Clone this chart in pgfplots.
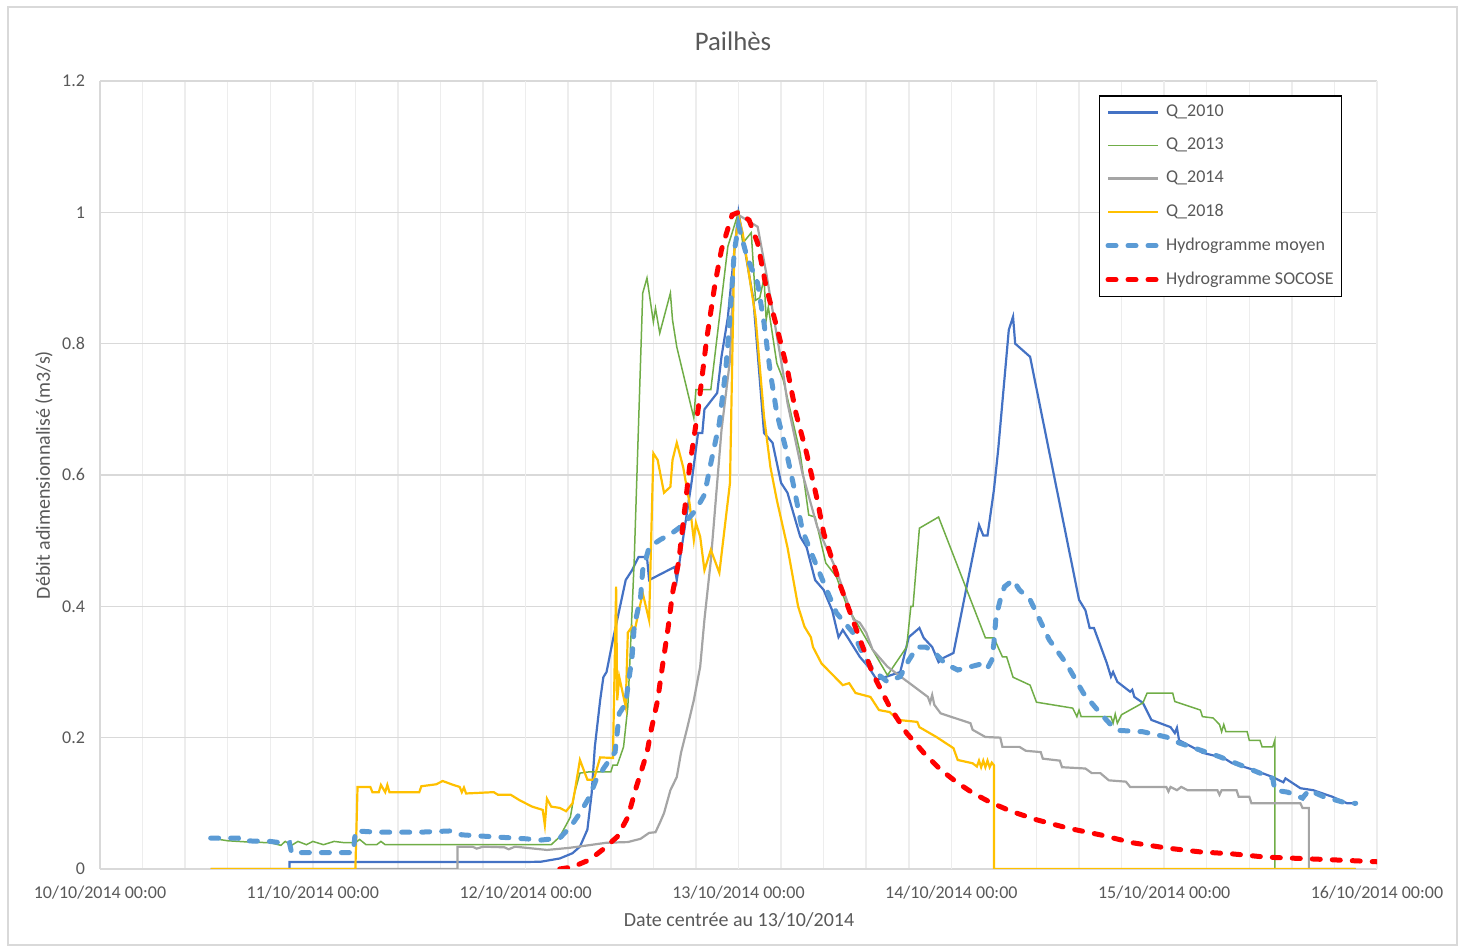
\documentclass[border=0pt]{standalone}
\usepackage{pgfplots}
\pgfplotsset{compat=1.18}
\usepackage{fontspec}
\setmainfont{Carlito}

\definecolor{qA}{HTML}{4472C4}
\definecolor{qB}{HTML}{70AD47}
\definecolor{qC}{HTML}{A5A5A5}
\definecolor{qD}{HTML}{FFC000}
\definecolor{moyen}{HTML}{5B9BD5}
\definecolor{socose}{HTML}{FF0000}
\definecolor{txt}{HTML}{595959}
\definecolor{gridH}{HTML}{D9D9D9}
\definecolor{gridV}{HTML}{EDEDED}
\definecolor{frame}{HTML}{D9D9D9}

\begin{document}
\begin{tikzpicture}[x=1pt,y=1pt]
\path[use as bounding box] (0,0) rectangle (732,476);
\draw[frame, line width=0.75pt] (4,3.5) rectangle (728.5,472.5);

\begin{axis}[
  at={(50pt,41.5pt)}, anchor=south west,
  scale only axis, width=638.5pt, height=394pt,
  xmin=0, xmax=6, ymin=0, ymax=1.2,
  axis x line*=bottom, axis y line*=left,
  x axis line style={draw=gridH, line width=0.75pt, -},
  y axis line style={draw=gridH, line width=0.75pt, -},
  major tick length=0pt, minor tick length=0pt,
  tick style={draw=none},
  xtick={0,1,2,3,4,5,6},
  xticklabels={10/10/2014 00:00,11/10/2014 00:00,12/10/2014 00:00,13/10/2014 00:00,14/10/2014 00:00,15/10/2014 00:00,16/10/2014 00:00},
  minor x tick num=4,
  xminorgrids,
  minor grid style={draw=gridV, line width=0.75pt},
  extra x ticks={1,2,3,4,5,6},
  extra x tick labels={},
  extra x tick style={grid=major, major grid style={draw=gridV, line width=0.75pt}},
  ytick={0,0.2,0.4,0.6,0.8,1,1.2},
  yticklabels={0,0.2,0.4,0.6,0.8,1,1.2},
  ymajorgrids,
  major grid style={draw=gridH, line width=0.75pt},
  xticklabel style={font=\fontsize{9}{10}\selectfont, text=txt, yshift=-5pt},
  yticklabel style={font=\fontsize{9}{10}\selectfont, text=txt, xshift=-4pt},
  legend cell align=left,
  legend style={at={(rel axis cs:0.782,0.982)}, anchor=north west,
    draw=black, line width=0.9pt, fill=white,
    font=\fontsize{9}{10}\selectfont, text=txt,
    row sep=5.2pt, inner xsep=3pt, inner ysep=2.5pt,
    nodes={inner xsep=1pt},
    /tikz/every odd column/.append style={column sep=1.8pt}},
  legend image code/.code={\draw[#1] (0pt,0pt) -- (25pt,0pt);},
  clip=true,
]

% Q_2010
\addplot[qA, line width=1.1pt] coordinates {
(0.89,0) (0.89,0.0107) (2.0,0.0107) (2.07,0.011) (2.16,0.016) (2.22,0.024) (2.255,0.034)
(2.29,0.06) (2.31,0.115) (2.325,0.186) (2.35,0.257) (2.365,0.292) (2.38,0.30) (2.41,0.349)
(2.47,0.44) (2.50,0.455) (2.53,0.475) (2.57,0.475) (2.58,0.44) (2.70,0.46) (2.71,0.44)
(2.78,0.59) (2.81,0.664) (2.83,0.664) (2.84,0.70) (2.90,0.725) (2.92,0.78) (2.95,0.84)
(2.98,0.94) (3.0,1.0) (3.07,0.867) (3.12,0.664) (3.16,0.649) (3.20,0.588) (3.23,0.573)
(3.29,0.506) (3.32,0.49) (3.36,0.44) (3.40,0.425) (3.44,0.394) (3.47,0.353) (3.49,0.364)
(3.52,0.349) (3.57,0.323) (3.61,0.308) (3.65,0.288) (3.76,0.30) (3.80,0.353) (3.85,0.367)
(3.87,0.352) (3.91,0.338) (3.94,0.315) (3.96,0.321) (4.01,0.329) (4.13,0.524) (4.15,0.508)
(4.17,0.508) (4.20,0.577) (4.22,0.638) (4.27,0.821) (4.29,0.841) (4.30,0.80) (4.37,0.78)
(4.60,0.41) (4.63,0.394) (4.65,0.367) (4.67,0.367) (4.73,0.314) (4.75,0.293) (4.76,0.30)
(4.78,0.285) (4.84,0.27) (4.85,0.273) (4.86,0.262) (4.90,0.253) (4.94,0.227) (5.03,0.216)
(5.05,0.207) (5.06,0.215) (5.07,0.196) (5.13,0.186) (5.18,0.177) (5.28,0.169) (5.32,0.161)
(5.42,0.151) (5.51,0.14) (5.56,0.132) (5.57,0.138) (5.64,0.123) (5.70,0.12) (5.79,0.11)
(5.86,0.10) (5.90,0.10)
};
\addlegendentry{Q\_2010}

% Q_2013
\addplot[qB, line width=0.75pt] coordinates {
(0.52,0.047) (0.6,0.043) (0.7,0.041) (0.8,0.04) (0.85,0.036) (0.87,0.042) (0.9,0.036)
(0.93,0.042) (0.97,0.037) (1.0,0.042) (1.05,0.037) (1.1,0.042) (1.15,0.04) (1.2,0.04)
(1.22,0.045) (1.25,0.037) (1.3,0.037) (1.32,0.042) (1.34,0.037) (2.12,0.037) (2.16,0.049)
(2.21,0.079) (2.23,0.116) (2.255,0.146) (2.30,0.148) (2.40,0.148) (2.41,0.158) (2.43,0.158)
(2.46,0.186) (2.48,0.247) (2.49,0.318) (2.51,0.47) (2.55,0.877) (2.57,0.90) (2.60,0.833)
(2.61,0.854) (2.63,0.816) (2.68,0.877) (2.69,0.836) (2.71,0.795) (2.79,0.687) (2.80,0.73)
(2.87,0.73) (2.95,0.948) (3.0,1.0) (3.02,0.953) (3.06,0.969) (3.08,0.866) (3.10,0.87)
(3.12,0.90) (3.13,0.836) (3.14,0.856) (3.18,0.77) (3.21,0.745) (3.29,0.633) (3.33,0.539)
(3.36,0.536) (3.41,0.466) (3.46,0.445) (3.51,0.40) (3.70,0.295) (3.79,0.338) (3.81,0.40)
(3.82,0.40) (3.85,0.519) (3.94,0.536) (4.16,0.352) (4.20,0.352) (4.24,0.323) (4.26,0.323)
(4.29,0.292) (4.37,0.28) (4.40,0.254) (4.57,0.245) (4.59,0.232) (4.60,0.242) (4.61,0.232)
(4.75,0.232) (4.76,0.222) (4.77,0.236) (4.78,0.222) (4.80,0.235) (4.90,0.253) (4.92,0.268)
(5.04,0.268) (5.05,0.255) (5.17,0.242) (5.18,0.232) (5.23,0.23) (5.26,0.22) (5.27,0.209)
(5.28,0.22) (5.29,0.209) (5.39,0.209) (5.40,0.196) (5.45,0.196) (5.46,0.186) (5.51,0.186)
(5.52,0.196) (5.52,0) (5.9,0)
};
\addlegendentry{Q\_2013}

% Q_2014
\addplot[qC, line width=1.1pt] coordinates {
(0.52,0) (1.68,0) (1.68,0.034) (1.75,0.034) (1.77,0.031) (1.80,0.034) (1.9,0.033)
(1.92,0.03) (1.95,0.034) (2.10,0.029) (2.2,0.032) (2.27,0.035) (2.38,0.04) (2.48,0.041)
(2.54,0.046) (2.58,0.055) (2.61,0.056) (2.63,0.07) (2.65,0.085) (2.68,0.12) (2.71,0.14)
(2.73,0.177) (2.76,0.216) (2.79,0.257) (2.82,0.308) (2.84,0.38) (2.87,0.47) (2.92,0.668)
(2.96,0.775) (2.98,0.94) (3.0,0.996) (3.04,0.988) (3.09,0.978) (3.13,0.908) (3.16,0.851)
(3.21,0.755) (3.23,0.71) (3.30,0.603) (3.37,0.521) (3.46,0.455) (3.54,0.38) (3.57,0.375)
(3.60,0.36) (3.63,0.334) (3.70,0.308) (3.89,0.262) (3.90,0.253) (3.91,0.265) (3.92,0.25)
(3.95,0.237) (4.09,0.222) (4.10,0.212) (4.16,0.201) (4.23,0.2) (4.24,0.186) (4.32,0.186)
(4.35,0.18) (4.42,0.178) (4.43,0.168) (4.51,0.165) (4.52,0.155) (4.63,0.153) (4.66,0.146)
(4.70,0.146) (4.74,0.135) (4.82,0.133) (4.84,0.125) (5.01,0.125) (5.02,0.118) (5.03,0.125)
(5.06,0.12) (5.08,0.125) (5.11,0.12) (5.25,0.12) (5.26,0.113) (5.27,0.12) (5.34,0.12)
(5.35,0.11) (5.40,0.11) (5.41,0.10) (5.64,0.10) (5.65,0.093) (5.68,0.093) (5.68,0) (5.9,0)
};
\addlegendentry{Q\_2014}

% Q_2018
\addplot[qD, line width=1.1pt] coordinates {
(0.52,0) (1.2,0) (1.21,0.125) (1.27,0.125) (1.28,0.117) (1.31,0.117) (1.32,0.128)
(1.34,0.117) (1.35,0.128) (1.36,0.117) (1.50,0.117) (1.51,0.126) (1.58,0.129) (1.61,0.134)
(1.66,0.128) (1.69,0.125) (1.70,0.117) (1.71,0.124) (1.72,0.115) (1.85,0.117) (1.87,0.113)
(1.93,0.113) (1.97,0.105) (2.0,0.1) (2.03,0.095) (2.08,0.09) (2.09,0.067) (2.10,0.107)
(2.12,0.095) (2.16,0.093) (2.19,0.088) (2.22,0.1) (2.23,0.117) (2.255,0.166) (2.29,0.136)
(2.32,0.136) (2.35,0.17) (2.41,0.169) (2.425,0.43) (2.43,0.257) (2.44,0.292) (2.45,0.277)
(2.47,0.247) (2.48,0.36) (2.50,0.369) (2.51,0.36) (2.55,0.42) (2.58,0.379) (2.60,0.633)
(2.62,0.623) (2.65,0.573) (2.68,0.582) (2.69,0.623) (2.71,0.649) (2.74,0.612) (2.77,0.557)
(2.79,0.501) (2.80,0.527) (2.82,0.506) (2.84,0.455) (2.87,0.486) (2.91,0.451) (2.96,0.588)
(2.98,0.94) (3.0,0.995) (3.02,0.968) (3.08,0.841) (3.12,0.689) (3.15,0.612) (3.18,0.562)
(3.23,0.49) (3.28,0.40) (3.31,0.369) (3.34,0.353) (3.35,0.338) (3.39,0.313) (3.49,0.28)
(3.52,0.283) (3.55,0.268) (3.62,0.262) (3.66,0.242) (3.71,0.239) (3.75,0.227) (3.84,0.224)
(3.85,0.216) (3.93,0.201) (4.01,0.184) (4.03,0.166) (4.10,0.161) (4.12,0.156) (4.13,0.165)
(4.14,0.155) (4.15,0.165) (4.16,0.155) (4.17,0.165) (4.18,0.155) (4.19,0.162) (4.20,0.158)
(4.20,0) (5.9,0)
};
\addlegendentry{Q\_2018}

% Hydrogramme moyen
\addplot[moyen, line width=2.5pt, line cap=round, dash pattern=on 4pt off 6pt] coordinates {
(0.52,0.047) (0.65,0.047) (0.66,0.043) (0.8,0.042) (0.85,0.04) (0.89,0.04) (0.9,0.025)
(1.19,0.025) (1.2,0.058) (1.3,0.056) (1.5,0.056) (1.65,0.058) (1.7,0.052) (1.8,0.05)
(1.9,0.048) (2.0,0.046) (2.07,0.044) (2.16,0.047) (2.21,0.064) (2.255,0.085) (2.30,0.11)
(2.33,0.135) (2.37,0.155) (2.40,0.169) (2.42,0.178) (2.43,0.207) (2.44,0.237) (2.45,0.242)
(2.47,0.252) (2.48,0.277) (2.50,0.323) (2.51,0.369) (2.54,0.414) (2.55,0.455) (2.58,0.49)
(2.63,0.501) (2.69,0.512) (2.74,0.524) (2.80,0.547) (2.84,0.57) (2.87,0.618) (2.91,0.679)
(2.94,0.76) (2.96,0.84) (2.98,0.94) (3.0,0.98) (3.04,0.932) (3.09,0.892) (3.12,0.831)
(3.15,0.755) (3.18,0.694) (3.22,0.643) (3.26,0.582) (3.30,0.516) (3.35,0.475) (3.40,0.436)
(3.46,0.39) (3.54,0.359) (3.59,0.323) (3.63,0.303) (3.70,0.285) (3.76,0.293) (3.80,0.318)
(3.84,0.338) (3.88,0.338) (3.92,0.33) (3.97,0.313) (4.03,0.303) (4.09,0.308) (4.15,0.313)
(4.17,0.306) (4.19,0.318) (4.20,0.344) (4.21,0.384) (4.23,0.41) (4.25,0.43) (4.29,0.44)
(4.32,0.425) (4.37,0.41) (4.40,0.39) (4.46,0.349) (4.54,0.313) (4.62,0.268) (4.70,0.237)
(4.76,0.216) (4.79,0.211) (4.90,0.209) (5.01,0.201) (5.07,0.192) (5.17,0.181) (5.26,0.171)
(5.36,0.158) (5.45,0.146) (5.51,0.138) (5.52,0.12) (5.58,0.117) (5.65,0.108) (5.68,0.12)
(5.75,0.11) (5.86,0.1) (5.90,0.1)
};
\addlegendentry{Hydrogramme moyen}

% Hydrogramme SOCOSE
\addplot[socose, line width=2.5pt, line cap=round, dash pattern=on 4pt off 6pt] coordinates {
(2.16,0) (2.22,0.003) (2.30,0.014) (2.36,0.029) (2.43,0.049) (2.48,0.079) (2.52,0.125)
(2.57,0.177) (2.59,0.212) (2.62,0.257) (2.64,0.303) (2.67,0.369) (2.69,0.42) (2.72,0.47)
(2.74,0.527) (2.77,0.612) (2.81,0.699) (2.85,0.806) (2.89,0.892) (2.92,0.943) (2.95,0.975)
(2.97,0.996) (3.0,1.0) (3.05,0.988) (3.09,0.953) (3.13,0.886) (3.18,0.825) (3.23,0.76)
(3.27,0.694) (3.32,0.633) (3.37,0.562) (3.40,0.512) (3.48,0.43) (3.56,0.359) (3.63,0.298)
(3.71,0.247) (3.79,0.207) (3.87,0.177) (3.95,0.151) (4.03,0.131) (4.10,0.116) (4.18,0.102)
(4.28,0.088) (4.40,0.075) (4.55,0.062) (4.70,0.052) (4.85,0.04) (5.01,0.032) (5.17,0.026)
(5.32,0.023) (5.48,0.018) (5.64,0.016) (5.79,0.014) (6.0,0.011)
};
\addlegendentry{Hydrogramme SOCOSE}

\end{axis}

\node[text=txt, font=\fontsize{13.4}{15}\selectfont] at (366.5,455.5) {Pailhès};
\node[text=txt, font=\fontsize{10}{12}\selectfont] at (369.5,16) {Date centrée au 13/10/2014};
\node[text=txt, font=\fontsize{10}{12}\selectfont, rotate=90] at (22,238.5) {Débit adimensionnalisé (m3/s)};
\end{tikzpicture}
\end{document}
